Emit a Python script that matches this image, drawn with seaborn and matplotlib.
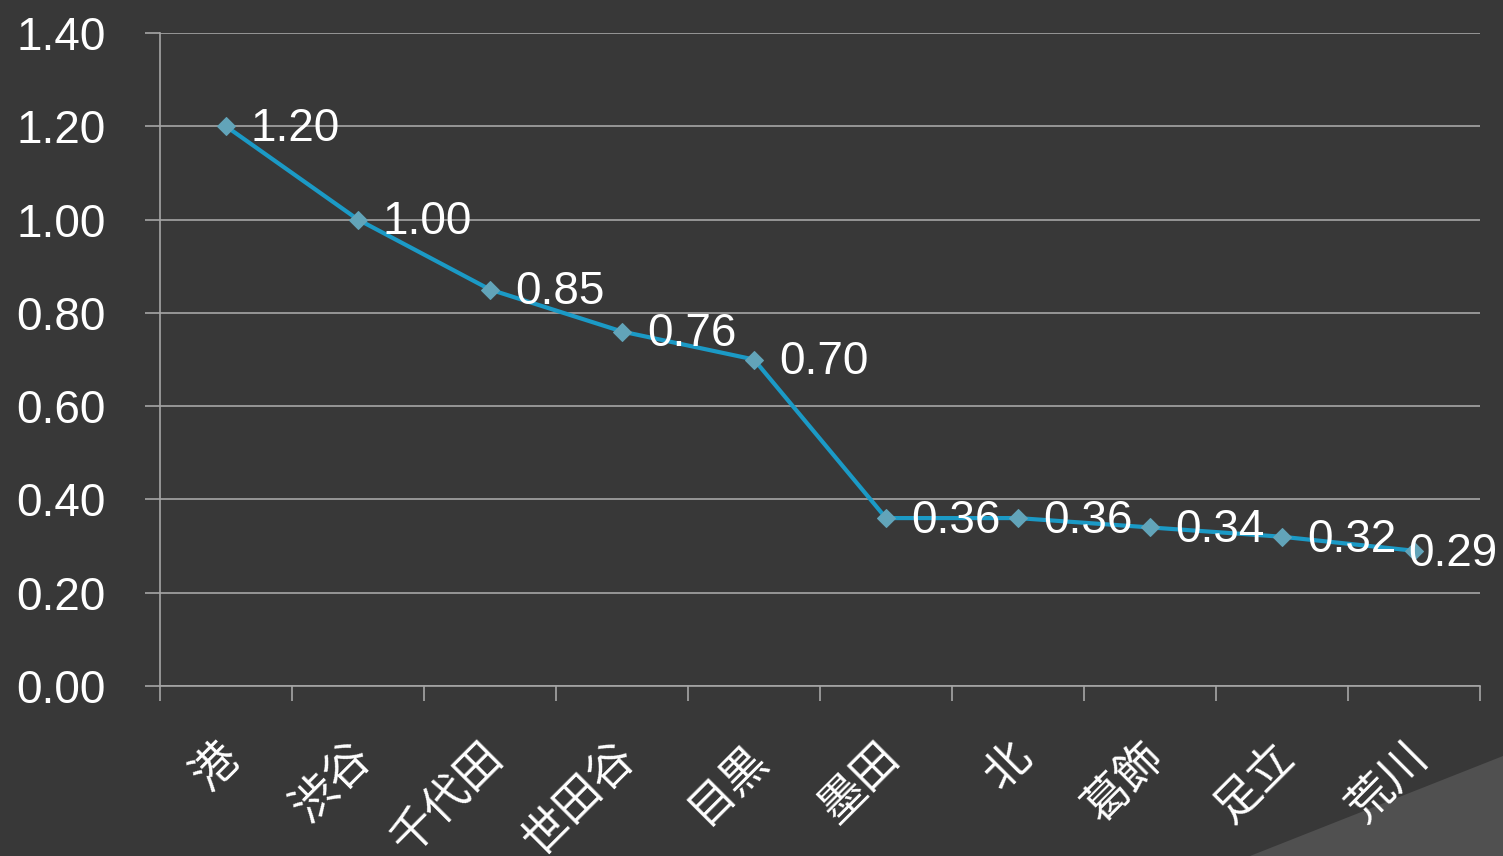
import matplotlib
matplotlib.use("Agg")
import matplotlib.pyplot as plt
from matplotlib.patches import Polygon
from matplotlib.transforms import ScaledTranslation
import seaborn as sns
import pandas as pd

# данные
wards = ["港", "渋谷", "千代田", "世田谷", "目黒", "墨田", "北", "葛飾", "足立", "荒川"]
values = [1.20, 1.00, 0.85, 0.76, 0.70, 0.36, 0.36, 0.34, 0.32, 0.29]

bg = "#383838"
line_col = "#1b9ac6"
marker_col = "#62a4b9"
grid_col = "#a6a6a6"

sns.set_theme(style="dark")
plt.rcParams['font.family'] = ['Liberation Sans', 'Noto Sans CJK JP', 'DejaVu Sans']

df = pd.DataFrame({"ward": wards, "value": values})

fig = plt.figure(figsize=(15.03, 8.56), dpi=100, facecolor=bg)
ax = fig.add_axes([160 / 1503, 1 - 686 / 856, 1320 / 1503, 653 / 856])
ax.set_facecolor(bg)

sns.lineplot(data=df, x="ward", y="value", ax=ax, color=line_col, linewidth=3.0,
             marker="D", markersize=9, markerfacecolor=marker_col,
             markeredgecolor=marker_col, sort=False)

# подписи значений; последняя сдвинута, чтобы поместилась
for i, v in enumerate(values):
    off = (18, -2) if i < len(values) - 1 else (-4, -2)
    ax.annotate(f"{v:.2f}", (i, v), xytext=off, textcoords="offset points",
                ha="left", va="center", color="white", fontsize=33,
                annotation_clip=False)

ax.set_xlim(-0.5, len(wards) - 0.5)
ax.set_ylim(0, 1.4)
ax.set_yticks([0, 0.2, 0.4, 0.6, 0.8, 1.0, 1.2, 1.4])
ax.set_yticklabels([f"{t:.2f}" for t in ax.get_yticks()], color="white", fontsize=33)
ax.yaxis.grid(True, color=grid_col, linewidth=1.2)
ax.xaxis.grid(False)

# категории: засечки между категориями
ax.set_xticks([i - 0.5 for i in range(len(wards) + 1)])
ax.set_xticklabels([])
ax.set_xticks(range(len(wards)), minor=True)
ax.set_xticklabels(wards, minor=True, rotation=45, ha="right", va="center",
                   rotation_mode="anchor", color="white", fontsize=33,
                   family=['Noto Sans CJK JP', 'DejaVu Sans'])
ax.tick_params(axis="x", which="major", length=11, width=1.2, color=grid_col, bottom=True)
ax.tick_params(axis="x", which="minor", length=0, pad=46)
ax.tick_params(axis="y", length=11, width=1.2, color=grid_col, left=True, pad=28)
for lbl in ax.get_xticklabels(minor=True):
    lbl.set_transform(lbl.get_transform() + ScaledTranslation(0.06, 0.0, fig.dpi_scale_trans))

for s in ["top", "right"]:
    ax.spines[s].set_visible(False)
ax.spines["left"].set_color(grid_col)
ax.spines["bottom"].set_color(grid_col)
ax.spines["left"].set_linewidth(1.2)
ax.spines["bottom"].set_linewidth(1.2)
ax.set_xlabel("")
ax.set_ylabel("")

# декоративный уголок
fig.patches.append(Polygon([(1250 / 1503, 0), (1, 100 / 856), (1, 0)], closed=True,
                           transform=fig.transFigure, facecolor="#505050",
                           edgecolor="none", zorder=-1))

fig.savefig("out.png", dpi=100, facecolor=bg)
